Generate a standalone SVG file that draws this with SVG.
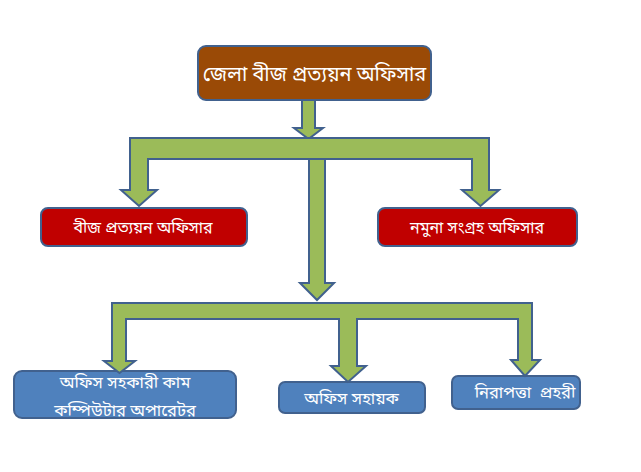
<svg xmlns="http://www.w3.org/2000/svg" width="641" height="472" viewBox="0 0 641 472">
<style>
.box{stroke:#41618E;stroke-width:2}
.brown{fill:#9A4A06}
.red{fill:#C00000}
.blue{fill:#4F81BD}
.conn{fill:#9BBB59;stroke:#41618E;stroke-width:2;stroke-linejoin:miter}
text{fill:#FFFFFF;font-family:"Noto Sans Bengali","Noto Sans","Lohit Bengali","Liberation Sans",sans-serif;text-anchor:middle}
.sm{font-size:16.5px}
</style>
<rect width="641" height="472" fill="#FFFFFF"/>
<g id="connectors">
<path class="conn" d="M302,100 L315,100 L315,128 L323,128 L308.5,139 L294,128 L302,128 Z"/>
<path class="conn" d="M309,159 L325,159 L325,283 L334,283 L317,300 L300,283 L309,283 Z"/>
<path class="conn" d="M130,138 L489,138 L489,190 L499,190 L480.5,206 L462,190 L472,190 L472,159 L148,159 L148,190 L157,190 L139,206 L121,190 L130,190 Z"/>
</g>
<g id="node-top">
<rect class="box brown" x="198" y="46" width="233" height="54" rx="8"/>
<text x="314.5" y="81" font-size="20">জেলা বীজ প্রত্যয়ন অফিসার</text>
</g>
<g id="node-seed">
<rect class="box red" x="41" y="208" width="206" height="38" rx="7"/>
<text x="143" y="233" font-size="16">বীজ প্রত্যয়ন অফিসার</text>
</g>
<g id="node-sample">
<rect class="box red" x="378" y="208" width="199" height="38" rx="7"/>
<text x="477" y="233" font-size="16">নমুনা সংগ্রহ অফিসার</text>
</g>
<g id="node-assistant">
<rect class="box blue" x="14" y="371" width="222" height="47" rx="8"/>
<text class="sm" x="125" y="388">অফিস সহকারী কাম</text>
<text class="sm" x="125" y="416">কম্পিউটার অপারেটর</text>
</g>
<g id="node-helper">
<rect class="box blue" x="279" y="382" width="146" height="31" rx="6"/>
<text class="sm" x="351.5" y="404">অফিস সহায়ক</text>
</g>
<g id="node-guard">
<rect class="box blue" x="452" y="376" width="128" height="33" rx="6"/>
<text class="sm" x="525" y="398" xml:space="preserve" style="white-space:pre">নিরাপত্তা  প্রহরী</text>
</g>
<g id="connectors-bottom">
<path class="conn" d="M112,303 L532,303 L532,360 L540,360 L525,376 L511,360 L518,360 L518,319 L357,319 L357,366 L366,366 L348,382 L331,366 L339,366 L339,319 L126,319 L126,361 L135,361 L119.5,373 L104,361 L112,361 Z"/>
</g>
</svg>
